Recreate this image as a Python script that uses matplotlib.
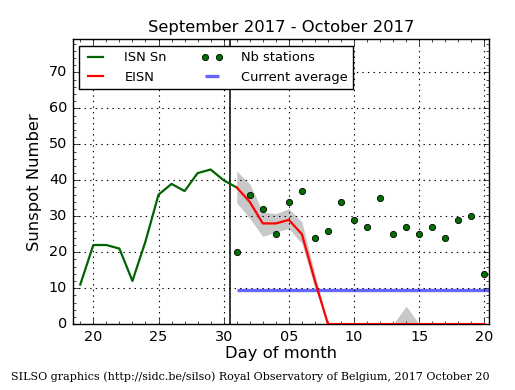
import matplotlib
matplotlib.use("Agg")
import matplotlib.pyplot as plt
from matplotlib.ticker import MultipleLocator, FixedLocator

# ---- data ----
isn_days = [19, 20, 21, 22, 23, 24, 25, 26, 27, 28, 29, 30, 31]
isn_values = [11, 22, 22, 21, 12, 23, 36, 39, 37, 42, 43, 40, 38]

eisn_days = list(range(31, 51))
eisn_values = [38, 34, 28, 28, 29, 25, 12, 0, 0, 0, 0, 0, 0, 0, 0, 0, 0, 0, 0, 0]
eisn_upper = [42.6, 39, 31.2, 30.7, 32.1, 28.4, 14, 0, 0, 0, 0, 0, 0, 5, 0, 0, 0, 0, 0, 0]
eisn_lower = [33.7, 29.4, 24.4, 25.6, 26.6, 22.4, 10, 0, 0, 0, 0, 0, 0, 0, 0, 0, 0, 0, 0, 0]

stations = [20, 36, 32, 25, 34, 37, 24, 26, 34, 29, 27, 35, 25, 27, 25, 27, 24, 29, 30, 14]

current_average = 9.4
month_boundary = 30.5

tick_positions = [20, 25, 30, 35, 40, 45, 50]
tick_labels = ["20", "25", "30", "05", "10", "15", "20"]

title = "September 2017 - October 2017"
footer = "SILSO graphics (http://sidc.be/silso) Royal Observatory of Belgium, 2017 October 20"

# ---- figure ----
plt.style.use("classic")
plt.rcParams["font.family"] = "DejaVu Sans"
fig = plt.figure(figsize=(5.15, 3.9), dpi=100, facecolor="white")
ax = fig.add_axes([0.1412, 0.169, 0.8088, 0.730])
ax.set_facecolor("white")

xlim = (18.42, 50.37)

ax.fill_between(eisn_days, eisn_lower, eisn_upper, color="#c8c8c8", linewidth=0, zorder=1)
ax.plot(isn_days, isn_values, color="#006400", lw=1.6, label="ISN Sn", zorder=3)
ax.plot(eisn_days, eisn_values, color="red", lw=1.6, label="EISN", zorder=3)
ax.plot(eisn_days, stations, linestyle="none", marker="o", markersize=4.5,
        markerfacecolor="#007000", markeredgecolor="black", markeredgewidth=0.6,
        label="Nb stations", zorder=4)
ax.hlines(current_average, eisn_days[0], xlim[1], color="#6666ff", lw=2.4,
          label="Current average", zorder=2)
ax.axvline(month_boundary, color="black", lw=1.1, zorder=2)

ax.set_xlim(*xlim)
ax.set_ylim(0, 79.2)
ax.xaxis.set_major_locator(FixedLocator(tick_positions))
ax.set_xticklabels(tick_labels)
ax.xaxis.set_minor_locator(MultipleLocator(1))
ax.yaxis.set_major_locator(MultipleLocator(10))
ax.yaxis.set_minor_locator(MultipleLocator(2))
ax.tick_params(which="both", direction="in", top=True, right=True, labelsize=10.4)
ax.tick_params(which="major", length=4)
ax.tick_params(which="minor", length=2)
ax.grid(True, which="major", linestyle=":", color="black", lw=0.8)

ax.set_title(title, fontsize=11.8)
ax.set_xlabel("Day of month", fontsize=11.8, labelpad=2)
ax.set_ylabel("Sunspot Number", fontsize=11.8)

leg = ax.legend(loc="upper left", ncol=2, fontsize=9.4, numpoints=2, fancybox=False,
                borderaxespad=0.5, handlelength=1.7, handletextpad=1.35,
                columnspacing=2.6)
leg.get_frame().set_edgecolor("black")

fig.text(0.021, 0.025, footer, family="DejaVu Serif", fontsize=8.0)

fig.savefig("out.png", dpi=100, facecolor="white")
